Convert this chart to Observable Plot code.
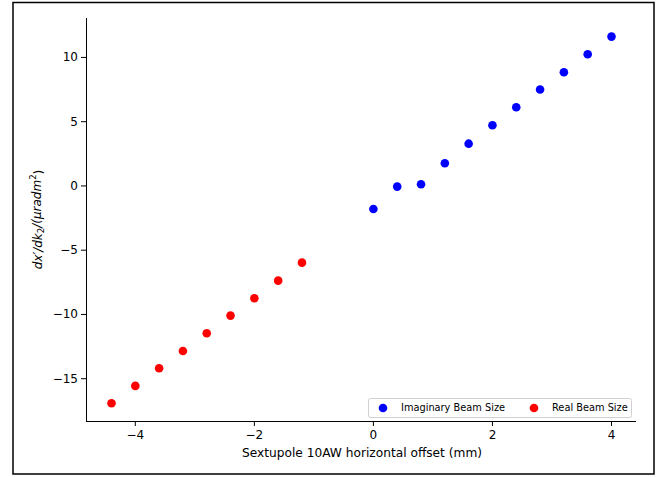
<!DOCTYPE html>
<html><head><meta charset="utf-8">
<script src="https://cdn.jsdelivr.net/npm/d3@7"></script>
<script src="https://cdn.jsdelivr.net/npm/@observablehq/plot@0.6"></script>
<style>body{margin:0;background:#fff}#chart{position:relative;width:669px;height:477px}</style>
</head><body><div id="chart"></div>
<script>
const seriesNames = ["Imaginary Beam Size", "Real Beam Size"];
const seriesColors = ["blue", "red"];
const imagX = [0.0, 0.4, 0.8, 1.2, 1.6, 2.0, 2.4, 2.8, 3.2, 3.6, 4.0];
const imagY = [-1.79, -0.05, 0.13, 1.77, 3.29, 4.72, 6.12, 7.50, 8.85, 10.25, 11.62];
const realX = [-4.4, -4.0, -3.6, -3.2, -2.8, -2.4, -2.0, -1.6, -1.2];
const realY = [-16.91, -15.56, -14.19, -12.84, -11.46, -10.09, -8.74, -7.37, -5.97];
const xTicks = [-4, -2, 0, 2, 4];
const yTicks = [-15, -10, -5, 0, 5, 10];
const xDomain = [-4.82, 4.42];
const yDomain = [-18.33, 13.03];
const xLabel = "Sextupole 10AW horizontal offset (mm)";

const data = [
  ...imagX.map((x, i) => ({x, y: imagY[i], s: seriesNames[0]})),
  ...realX.map((x, i) => ({x, y: realY[i], s: seriesNames[1]}))
];

const font = "'DejaVu Sans', sans-serif";
const W = 669, H = 477, mL = 86, mR = 33, mT = 18, mB = 56;

const plot = Plot.plot({
  width: W, height: H,
  marginLeft: mL, marginRight: mR, marginTop: mT, marginBottom: mB,
  style: {fontFamily: font, fontSize: "12px", color: "#000", background: "#fff"},
  x: {domain: xDomain},
  y: {domain: yDomain},
  color: {domain: seriesNames, range: seriesColors},
  marks: [
    Plot.ruleX([xDomain[0]], {stroke: "#000", strokeWidth: 1}),
    Plot.ruleY([yDomain[0]], {stroke: "#000", strokeWidth: 1}),
    Plot.axisX({ticks: xTicks, tickSize: 5, tickPadding: 3.5, label: null, stroke: "#000", fontSize: 12}),
    Plot.axisY({ticks: yTicks, tickSize: 5, tickPadding: 3.5, label: null, stroke: "#000", fontSize: 12}),
    Plot.dot(data, {x: "x", y: "y", fill: "s", r: 4.3})
  ]
});

document.getElementById("chart").appendChild(plot);
const svg = d3.select(plot);

// x label
svg.append("text")
  .attr("x", (mL + W - mR) / 2 + 1).attr("y", 457)
  .attr("text-anchor", "middle")
  .style("font-family", font).style("font-size", "12.2px").attr("fill", "#000")
  .text(xLabel);

// y label (mathtext-like)
const yl = svg.append("text")
  .attr("transform", `translate(38,${(mT + H - mB) / 2}) rotate(-90)`)
  .attr("text-anchor", "middle").attr("dominant-baseline", "middle")
  .style("font-family", font).style("font-size", "12px").attr("fill", "#000");
yl.append("tspan").style("font-style", "italic").text("dx′/dk");
yl.append("tspan").attr("dy", "0.3em").attr("font-size", "8.6px").text("2");
yl.append("tspan").attr("dy", "-0.3em").style("font-style", "italic").text("/(μradm");
yl.append("tspan").attr("dy", "-0.45em").attr("font-size", "8.6px").text("2");
yl.append("tspan").attr("dy", "0.45em").text(")");

// legend
const lg = svg.append("g");
lg.append("rect").attr("x", 368.5).attr("y", 398.5).attr("width", 263).attr("height", 19)
  .attr("rx", 2).attr("fill", "#fff").attr("fill-opacity", 0.8).attr("stroke", "#d0d0d0");
const lgX = [383, 534];
seriesNames.forEach((n, i) => {
  lg.append("circle").attr("cx", lgX[i]).attr("cy", 408).attr("r", 4.3).attr("fill", seriesColors[i]);
  lg.append("text").attr("x", lgX[i] + 18).attr("y", 408)
    .attr("text-anchor", "start").attr("dominant-baseline", "middle")
    .style("font-family", font).style("font-size", "9.8px").attr("fill", "#000").text(n);
});

// outer figure border
svg.append("rect").attr("x", 13).attr("y", 2.5).attr("width", 641).attr("height", 471.5)
  .attr("fill", "none").attr("stroke", "#000").attr("stroke-width", 1.5);
</script>
</body></html>
